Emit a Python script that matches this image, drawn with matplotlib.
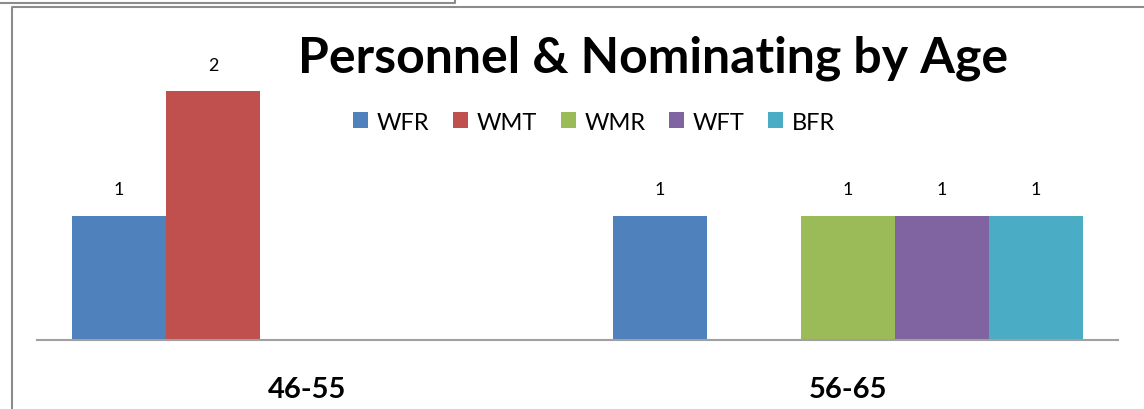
import numpy as np
import matplotlib
matplotlib.use('Agg')
import matplotlib.pyplot as plt
from matplotlib.lines import Line2D

plt.rcParams['font.family'] = ['Lato', 'DejaVu Sans']

categories = ['46-55', '56-65']
series_names = ['WFR', 'WMT', 'WMR', 'WFT', 'BFR']
wfr = [1, 1]
wmt = [2, 0]
wmr = [0, 1]
wft = [0, 1]
bfr = [0, 1]
colors = ['#4F81BD', '#C0504D', '#9BBB59', '#8064A2', '#4BACC6']

values = [wfr, wmt, wmr, wft, bfr]

W, H = 1144, 410
fig = plt.figure(figsize=(W / 100, H / 100), dpi=100)

# frames (pixel coords -> figure fraction)
def px(x, y):
    return x / W, 1 - y / H

gray = '#8C8C8C'
x0, y0 = px(0, 4); x1, y1 = px(455, 4); x2, y2 = px(455, 0)
fig.add_artist(Line2D([x0, x1, x2], [y0, y1, y2], color=gray, lw=1.5))
a, b = px(12, 420); c, d = px(12, 8); e, f = px(1150, 8)
fig.add_artist(Line2D([a, c, e], [b, d, f], color=gray, lw=1.5))

ax = fig.add_axes([37 / W, 1 - 341 / H, (1118 - 37) / W, (341 - 30) / H])
n = len(series_names)
width = 0.87 / n
x = np.arange(len(categories))
for i, (name, vals, col) in enumerate(zip(series_names, values, colors)):
    pos = x - 0.435 + width * (i + 0.5)
    bars = ax.bar(pos, vals, width, color=col, label=name)
    for bar, v in zip(bars, vals):
        if v:
            ax.text(bar.get_x() + bar.get_width() / 2, v + 0.15, str(v),
                    ha='center', va='bottom', fontsize=13)

ax.set_xlim(-0.5, 1.5)
ax.set_ylim(0, 2.5)
ax.set_yticks([])
ax.set_xticks(x)
ax.set_xticklabels(categories, fontsize=21, fontweight='bold')
ax.tick_params(axis='x', length=0, pad=26)
for s in ['top', 'right', 'left']:
    ax.spines[s].set_visible(False)
ax.spines['bottom'].set_color('#A0A0A0')
ax.spines['bottom'].set_linewidth(1.5)

fig.text(653 / W, 1 - 58 / H, 'Personnel & Nominating by Age', ha='center',
         va='center', fontsize=36, fontweight='bold')
fig.legend(loc='center', bbox_to_anchor=(594 / W, 1 - 123 / H), ncol=5,
           frameon=False, fontsize=17, handlelength=0.65, handleheight=0.65,
           handletextpad=0.35, columnspacing=1.0)

fig.savefig('out.png', dpi=100)
